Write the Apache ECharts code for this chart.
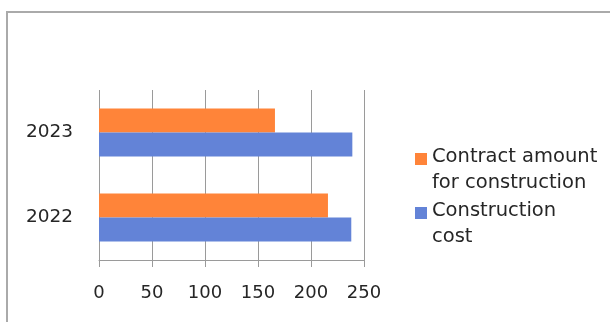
<!DOCTYPE html>
<html>
<head>
<meta charset="utf-8">
<script src="https://cdn.jsdelivr.net/npm/echarts@6/dist/echarts.min.js"></script>
<style>
html,body{margin:0;padding:0;background:#fff;}
#frame{position:absolute;left:6px;top:11px;width:610px;height:320px;border-top:2px solid #aaaaaa;border-left:2px solid #aaaaaa;}
#chart{position:absolute;left:0;top:0;width:610px;height:322px;}
</style>
</head>
<body>
<div id="frame"></div>
<div id="chart"></div>
<script>
const categories = ['2022', '2023'];
const seriesNames = ['Contract amount\nfor construction', 'Construction\ncost'];
const contractAmount = [216, 166];
const constructionCost = [238, 239];
const xTicks = [0, 50, 100, 150, 200, 250];

const chart = echarts.init(document.getElementById('chart'));
const font = 'DejaVu Sans';
const legendCommon = {
  orient: 'vertical',
  left: 410,
  icon: 'path://M0,0L12,0L12,12L0,12Z M0,34L0.001,34L0.001,34.001Z',
  itemWidth: 12,
  itemHeight: 34,
  itemGap: 4,
  selectedMode: false,
  textStyle: {fontFamily: font, fontSize: 19.5, color: '#262626', lineHeight: 26}
};
chart.setOption({
  animation: false,
  grid: {left: 99, right: 246, top: 90, bottom: 62},
  legend: [
    Object.assign({}, legendCommon, {top: 139, data: [seriesNames[0]]}),
    Object.assign({}, legendCommon, {top: 193, data: [seriesNames[1]]})
  ],
  xAxis: {
    type: 'value',
    min: xTicks[0],
    max: xTicks[xTicks.length - 1],
    interval: xTicks[1] - xTicks[0],
    axisLine: {show: true, lineStyle: {color: '#9a9a9a', width: 1}},
    axisTick: {show: true, length: 7, lineStyle: {color: '#9a9a9a'}},
    splitLine: {show: true, lineStyle: {color: '#9a9a9a', width: 1}},
    axisLabel: {fontFamily: font, fontSize: 18, color: '#262626', margin: 24}
  },
  yAxis: {
    type: 'category',
    data: categories,
    axisLine: {show: false},
    axisTick: {show: false},
    axisLabel: {fontFamily: font, fontSize: 18.5, color: '#262626', margin: 26}
  },
  series: [
    {name: seriesNames[0], type: 'bar', data: contractAmount, itemStyle: {color: '#ff8439'}, barGap: '0%', barCategoryGap: '43.5%'},
    {name: seriesNames[1], type: 'bar', data: constructionCost, itemStyle: {color: '#6383d7'}, barGap: '0%', barCategoryGap: '43.5%'}
  ]
});
</script>
</body>
</html>
